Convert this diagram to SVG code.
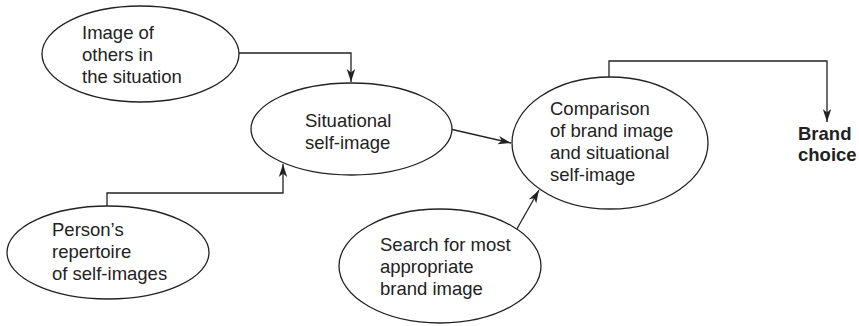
<svg xmlns="http://www.w3.org/2000/svg" width="859" height="326" viewBox="0 0 859 326">
<defs>
<marker id="arr" markerUnits="userSpaceOnUse" markerWidth="14" markerHeight="10" viewBox="0 0 14 10" refX="13" refY="5" orient="auto">
<path d="M0,0.8 L13,5 L0,9.2 L3.5,5 Z" fill="#222"/>
</marker>
<style>
.n{fill:#fff;stroke:#222;stroke-width:1.3}
.t{font-family:"Liberation Sans",Arial,sans-serif;font-size:18.5px;fill:#222}
.b{font-weight:bold}
.c{fill:none;stroke:#222;stroke-width:1.3;marker-end:url(#arr)}
</style>
</defs>
<rect width="859" height="326" fill="#fff"/>
<g id="connectors">
<path class="c" d="M239,53 H351 V82"/>
<path class="c" d="M107,206 V193 H283 V164"/>
<path class="c" d="M450,129 L511,143"/>
<path class="c" d="M514,234 L539,190"/>
<path class="c" d="M609,77 V61 H827 V122"/>
</g>
<g id="others">
<ellipse class="n" cx="140.5" cy="54" rx="98.5" ry="48"/>
<text class="t" x="82" y="39">Image of</text>
<text class="t" x="82" y="61">others in</text>
<text class="t" x="82" y="83">the situation</text>
</g>
<g id="situational">
<ellipse class="n" cx="351.5" cy="129" rx="100.5" ry="46"/>
<text class="t" x="305" y="127">Situational</text>
<text class="t" x="305" y="149">self-image</text>
</g>
<g id="comparison">
<ellipse class="n" cx="610" cy="143" rx="98" ry="66"/>
<text class="t" x="550" y="115">Comparison</text>
<text class="t" x="550" y="137">of brand image</text>
<text class="t" x="550" y="159">and situational</text>
<text class="t" x="550" y="181">self-image</text>
</g>
<g id="repertoire">
<ellipse class="n" cx="108" cy="252.5" rx="101" ry="46.5"/>
<text class="t" x="52" y="236">Person’s</text>
<text class="t" x="52" y="258">repertoire</text>
<text class="t" x="52" y="280">of self-images</text>
</g>
<g id="search">
<ellipse class="n" cx="440" cy="266" rx="101" ry="57"/>
<text class="t" x="380" y="251">Search for most</text>
<text class="t" x="380" y="273">appropriate</text>
<text class="t" x="380" y="295">brand image</text>
</g>
<g id="brand">
<text class="t b" x="798" y="140">Brand</text>
<text class="t b" x="798" y="161">choice</text>
</g>
</svg>
